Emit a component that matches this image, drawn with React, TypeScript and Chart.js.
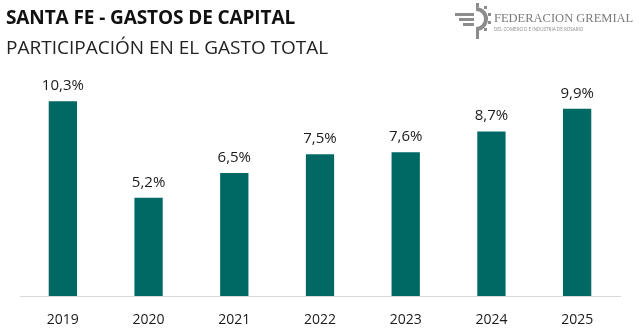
import React, { useEffect, useRef } from "react";
import { Chart, registerables } from "chart.js";

Chart.register(...registerables);

const years = ["2019", "2020", "2021", "2022", "2023", "2024", "2025"];
const shares = [10.3, 5.2, 6.5, 7.5, 7.6, 8.7, 9.9];
const barColor = "#016964";
const FONT = "'Open Sans', 'Noto Sans', sans-serif";

const labelPlugin = {
  id: "valueLabels",
  afterDatasetsDraw(chart: any) {
    const { ctx } = chart;
    const meta = chart.getDatasetMeta(0);
    ctx.save();
    ctx.font = `15px ${FONT}`;
    ctx.fillStyle = "#1a1a1a";
    ctx.textAlign = "center";
    ctx.textBaseline = "alphabetic";
    meta.data.forEach((bar: any, i: number) => {
      const txt = shares[i].toFixed(1).replace(".", ",") + "%";
      ctx.fillText(txt, bar.x, bar.y - 11);
    });
    ctx.restore();
  },
};

function Logo() {
  return (
    <div style={{ position: "absolute", left: 452, top: 2, width: 187, height: 37 }}>
      <svg width="42" height="37" viewBox="0 0 42 37" style={{ position: "absolute", left: 0, top: 0 }}>
        <g fill="#8c8c8c">
          <path d="M3 11 h19 v3 h-19z" />
          <path d="M7 16 h15 v3 h-15z" />
          <path d="M11 21 h11 v3 h-11z" />
          <path d="M24 5 a12 12 0 1 1 0 24 v-4 a8 8 0 1 0 0 -16z" />
          <rect x="32" y="4" width="3" height="3" />
          <rect x="36" y="11" width="3" height="3" />
          <rect x="36" y="19" width="3" height="3" />
          <rect x="32" y="26" width="3" height="3" />
          <rect x="24" y="1" width="3" height="4" />
          <rect x="24" y="28" width="3" height="9" />
        </g>
      </svg>
      <div
        style={{
          position: "absolute",
          left: 42,
          top: 10,
          fontFamily: "'Liberation Serif', 'DejaVu Serif', serif",
          fontSize: 12.5,
          color: "#7a7a7a",
          whiteSpace: "nowrap",
          lineHeight: "13px",
        }}
      >
        FEDERACION GREMIAL
      </div>
      <div
        style={{
          position: "absolute",
          left: 42,
          top: 24,
          fontFamily: FONT,
          fontSize: 4.6,
          color: "#8a8a8a",
          whiteSpace: "nowrap",
          lineHeight: "6px",
        }}
      >
        DEL COMERCIO E INDUSTRIA DE ROSARIO
      </div>
    </div>
  );
}

export default function App() {
  const ref = useRef<HTMLCanvasElement | null>(null);

  useEffect(() => {
    document.body.style.margin = "0";
    const chart = new Chart(ref.current as HTMLCanvasElement, {
      type: "bar",
      data: {
        labels: years,
        datasets: [
          {
            data: shares,
            backgroundColor: barColor,
            barPercentage: 0.33,
            categoryPercentage: 1,
          },
        ],
      },
      options: {
        responsive: false,
        animation: false,
        layout: { padding: { left: 20, right: 19, top: 69, bottom: 0 } },
        plugins: { legend: { display: false }, tooltip: { enabled: false }, title: { display: false } },
        scales: {
          x: {
            grid: { display: false, drawTicks: false },
            border: { display: true, color: "#d9d9d9", width: 1 },
            ticks: { color: "#1a1a1a", font: { family: FONT, size: 14 }, padding: 16 },
            afterFit: (scale: any) => {
              scale.height = 39;
            },
          },
          y: { display: false, min: 0, max: 12 },
        },
      },
      plugins: [labelPlugin],
    });
    return () => chart.destroy();
  }, []);

  return (
    <div style={{ position: "relative", width: 639, height: 335, background: "#fff", overflow: "hidden" }}>
      <canvas ref={ref} width={639} height={335} style={{ position: "absolute", left: 0, top: 0 }} />
      <div
        style={{
          position: "absolute",
          left: 6,
          top: 5,
          fontFamily: FONT,
          fontWeight: 700,
          fontSize: 19,
          color: "#111",
          whiteSpace: "nowrap",
          lineHeight: "24px",
          letterSpacing: -0.1,
        }}
      >
        SANTA FE - GASTOS DE CAPITAL
      </div>
      <div
        style={{
          position: "absolute",
          left: 6,
          top: 35,
          fontFamily: FONT,
          fontSize: 19,
          color: "#222",
          whiteSpace: "nowrap",
          lineHeight: "24px",
        }}
      >
        PARTICIPACIÓN EN EL GASTO TOTAL
      </div>
      <Logo />
    </div>
  );
}
